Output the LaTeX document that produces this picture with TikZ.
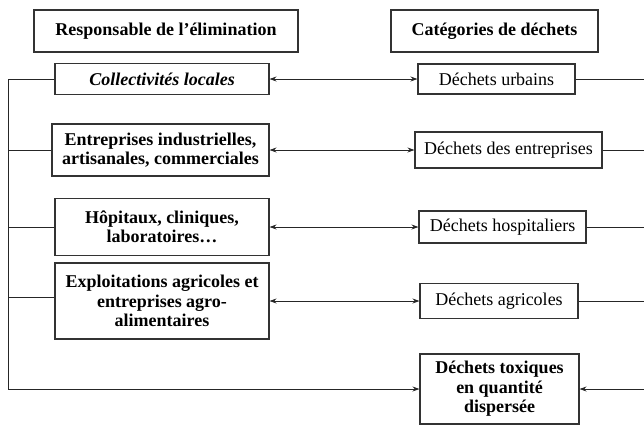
\documentclass[tikz,border=0pt]{standalone}
\usepackage{fontspec}
\setmainfont{Liberation Serif}
\usetikzlibrary{arrows.meta}

\begin{document}
\begin{tikzpicture}[
  x=1pt, y=-1pt,
  font=\fontsize{18}{19.5}\selectfont,
  box/.style={draw=black!80, line width=1.1pt, align=center, inner sep=2pt},
  resp/.style={box, font=\fontsize{18}{19.5}\selectfont\bfseries},
  cat/.style={box},
  link/.style={black!85, line width=0.9pt},
  arr/.style={link, -{Stealth[length=7pt,width=5pt]}},
  dbl/.style={link, {Stealth[length=7pt,width=5pt]}-{Stealth[length=7pt,width=5pt]}}
]
\useasboundingbox (0,0) rectangle (644,426);

% column headings
\node[resp, minimum width=264pt, minimum height=42pt] (headL) at (166,31) {Responsable de l’élimination};
\node[resp, minimum width=207pt, minimum height=42pt] (headR) at (494.5,31) {Catégories de déchets};

% who is responsible
\node[resp, minimum width=214pt, minimum height=31pt, font=\fontsize{18}{19.5}\selectfont\bfseries\itshape] (coll) at (162,79) {Collectivités locales};
\node[resp, minimum width=217pt, minimum height=52pt] (entr) at (160.5,150) {Entreprises industrielles,\\artisanales, commerciales};
\node[resp, minimum width=214pt, minimum height=57pt] (hop) at (162,227) {Hôpitaux, cliniques,\\laboratoires…};
\node[resp, minimum width=214pt, minimum height=76pt] (expl) at (162,301) {Exploitations agricoles et\\entreprises agro-\\alimentaires};

% kinds of waste
\node[cat, minimum width=157pt, minimum height=30pt] (urb) at (496.5,79) {Déchets urbains};
\node[cat, minimum width=187pt, minimum height=36pt] (dent) at (508.5,150) {Déchets des entreprises};
\node[cat, minimum width=167pt, minimum height=32pt] (dhosp) at (502.5,227) {Déchets hospitaliers};
\node[cat, minimum width=158pt, minimum height=35pt] (dagri) at (499,301) {Déchets agricoles};
\node[resp, minimum width=159pt, minimum height=70pt] (dtox) at (499.5,389) {Déchets toxiques\\en quantité\\dispersée};

% two-way links
\draw[dbl] (coll.east) -- (coll.east -| urb.west);
\draw[dbl] (entr.east) -- (entr.east -| dent.west);
\draw[dbl] (hop.east) -- (hop.east -| dhosp.west);
\draw[dbl] (expl.east) -- (expl.east -| dagri.west);

% left rail
\coordinate (railtop) at (8,79);
\coordinate (railbot) at (8,389);
\draw[link] (coll.west) -- (railtop) -- (railbot);
\draw[link] (entr.west) -- (entr.west -| railtop);
\draw[link] (hop.west) -- (hop.west -| railtop);
\draw[link] ([yshift=4pt]expl.west) -- ([yshift=4pt]expl.west -| railtop);
\draw[arr] (railbot) -- (railbot -| dtox.west);

% right side, running off the page
\coordinate (edge) at (644,0);
\draw[link] (urb.east) -- (urb.east -| edge);
\draw[link] (dent.east) -- (dent.east -| edge);
\draw[link] (dhosp.east) -- (dhosp.east -| edge);
\draw[link] (dagri.east) -- (dagri.east -| edge);
\draw[arr] (dtox.east -| edge) -- (dtox.east);

\end{tikzpicture}
\end{document}
